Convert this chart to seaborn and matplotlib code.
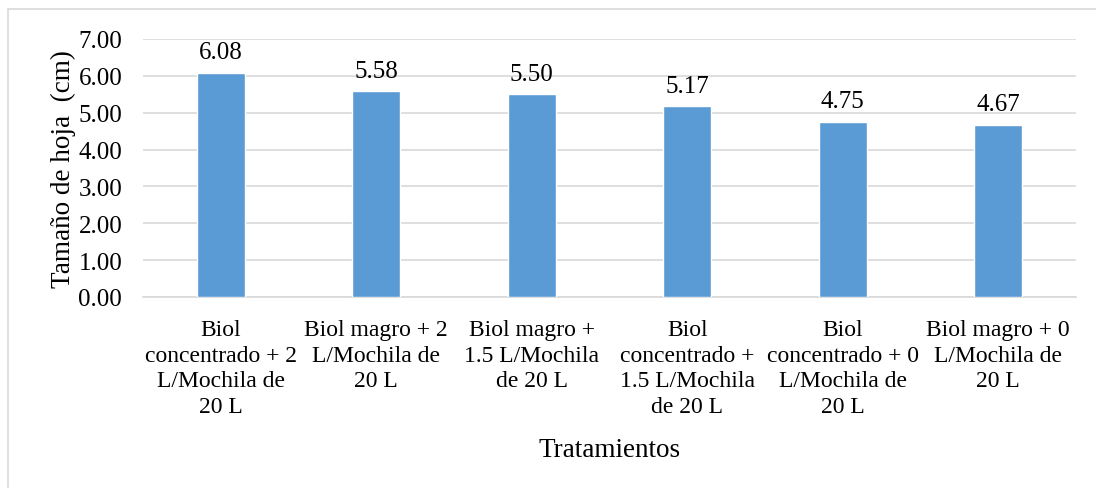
import matplotlib
matplotlib.use("Agg")
import matplotlib.pyplot as plt
import seaborn as sns
import pandas as pd
from matplotlib.patches import Rectangle

tratamientos = [
    "Biol\nconcentrado + 2\nL/Mochila de\n20 L",
    "Biol magro + 2\nL/Mochila de\n20 L",
    "Biol magro +\n1.5 L/Mochila\nde 20 L",
    "Biol\nconcentrado +\n1.5 L/Mochila\nde 20 L",
    "Biol\nconcentrado + 0\nL/Mochila de\n20 L",
    "Biol magro + 0\nL/Mochila de\n20 L",
]
tamano = [6.08, 5.58, 5.50, 5.17, 4.75, 4.67]
y_ticks = [0, 1, 2, 3, 4, 5, 6, 7]

df = pd.DataFrame({"Tratamientos": tratamientos, "Tamano": tamano})

sns.set_style("white", {"text.color": "black", "axes.labelcolor": "black",
                        "xtick.color": "black", "ytick.color": "black"})
plt.rcParams["font.family"] = ["Liberation Serif", "DejaVu Serif"]

fig = plt.figure(figsize=(10.96, 4.89), dpi=100)
ax = fig.add_axes([143 / 1096, 1 - 298 / 489, 933 / 1096, 258 / 489])

sns.barplot(data=df, x="Tratamientos", y="Tamano", color="#5B9BD5",
            width=0.31, saturation=1, ax=ax, zorder=3)

ax.set_ylim(0, 7)
ax.set_yticks(y_ticks)
ax.set_yticklabels([f"{v:.2f}" for v in y_ticks], fontsize=18)
ax.yaxis.grid(True, color="#D9D9D9", linewidth=1.2, zorder=0)
ax.set_axisbelow(True)
for s in ["top", "right", "left"]:
    ax.spines[s].set_visible(False)
ax.spines["bottom"].set_color("#D9D9D9")
ax.spines["bottom"].set_linewidth(1.2)
ax.tick_params(axis="y", length=0, pad=15, labelcolor="black")
ax.tick_params(axis="x", length=0, pad=16, labelcolor="black")
ax.set_xticks(range(len(tratamientos)))
ax.set_xticklabels(tratamientos, fontsize=17, linespacing=1.28, va="top", ha="center")

for i, v in enumerate(tamano):
    ax.annotate(f"{v:.2f}", (i, v), xytext=(0, 7), textcoords="offset points",
                ha="center", va="bottom", fontsize=18, color="black")

ax.set_ylabel("Tamaño de hoja  (cm)", fontsize=19.5, labelpad=2, color="black")
ax.set_xlabel("Tratamientos", fontsize=19.5, labelpad=15, color="black")

fig.patches.append(Rectangle((8 / 1096, -0.1), 1.2, 1 - 10 / 489 + 0.1,
                             transform=fig.transFigure, fill=False,
                             edgecolor="#D9D9D9", linewidth=1.2))

fig.savefig("out.png", dpi=100)
